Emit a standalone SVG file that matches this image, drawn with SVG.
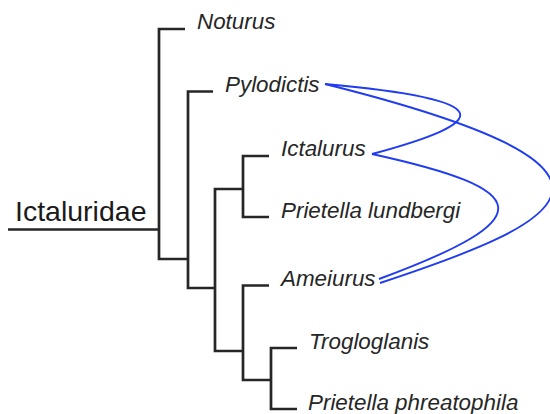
<svg xmlns="http://www.w3.org/2000/svg" width="550" height="414" viewBox="0 0 550 414">
<style>
.lbl{font-family:"Liberation Sans",Arial,sans-serif;font-style:italic;font-size:22.4px;fill:#262626}
.root{font-family:"Liberation Sans",Arial,sans-serif;font-size:28.5px;fill:#1a1a1a}
.br{fill:none;stroke:#262626;stroke-width:2.7;stroke-linecap:butt;stroke-linejoin:miter}
.lk{fill:none;stroke:#1f3cf0;stroke-width:1.9}
</style>
<rect width="550" height="414" fill="#ffffff"/>
<g id="connectors">
<path class="br" d="M8,229.5H159"/>
<path class="br" d="M185,29H159V259H188"/>
<path class="br" d="M213,91.5H188V288H215"/>
<path class="br" d="M243,189H215V351H243"/>
<path class="br" d="M269,156H243V217H269"/>
<path class="br" d="M269,285.5H243V380H271"/>
<path class="br" d="M297,348H271V409H297"/>
</g>
<g id="links">
<path class="lk" d="M325,84 C503,100 491,122 372,154"/>
<path class="lk" d="M325,84 C671,170.5 566,221.6 380,283"/>
<path class="lk" d="M372,154 C534,189.6 544,218 379,279"/>
</g>
<g id="node-ictaluridae"><text class="root" x="15" y="221">Ictaluridae</text></g>
<g id="node-noturus"><text class="lbl" x="197" y="29">Noturus</text></g>
<g id="node-pylodictis"><text class="lbl" x="225" y="91.5">Pylodictis</text></g>
<g id="node-ictalurus"><text class="lbl" x="281" y="156">Ictalurus</text></g>
<g id="node-prietella-lundbergi"><text class="lbl" x="281" y="218">Prietella lundbergi</text></g>
<g id="node-ameiurus"><text class="lbl" x="281" y="286">Ameiurus</text></g>
<g id="node-trogloglanis"><text class="lbl" x="309" y="349">Trogloglanis</text></g>
<g id="node-prietella-phreatophila"><text class="lbl" x="308" y="410">Prietella phreatophila</text></g>
</svg>
